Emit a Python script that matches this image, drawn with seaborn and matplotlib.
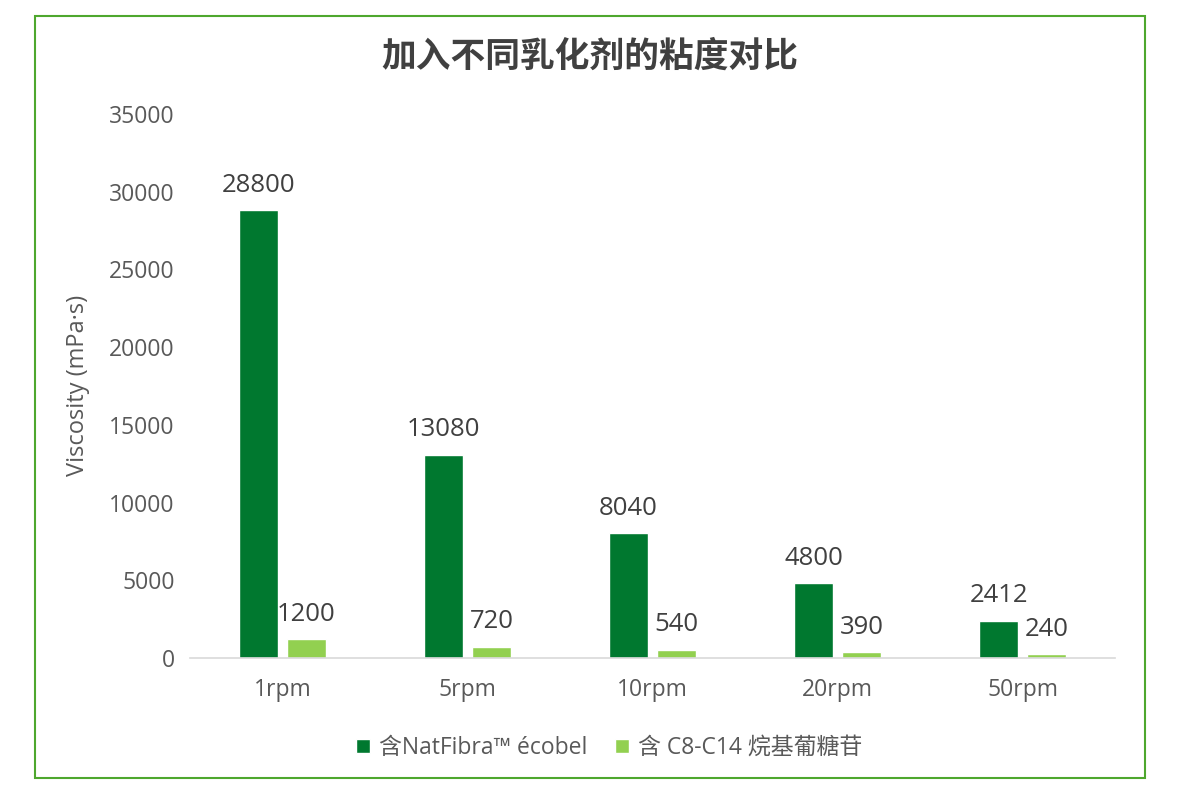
import pandas as pd
import seaborn as sns
import matplotlib.pyplot as plt
from matplotlib.patches import Rectangle

speeds = ["1rpm", "5rpm", "10rpm", "20rpm", "50rpm"]
natfibra = [28800, 13080, 8040, 4800, 2412]
alkyl = [1200, 720, 540, 390, 240]
series_names = ["含NatFibra™ écobel", "含 C8-C14 烷基葡糖苷"]
colors = ["#00782F", "#92D050"]

df = pd.DataFrame({
    "speed": speeds * 2,
    "viscosity": natfibra + alkyl,
    "series": [series_names[0]] * len(speeds) + [series_names[1]] * len(speeds),
})

sns.set_style("white")
plt.rcParams['font.family'] = ['Open Sans', 'Noto Sans CJK SC', 'DejaVu Sans']
text_color = "#595959"

fig = plt.figure(figsize=(11.8, 7.9), dpi=100)
ax = fig.add_axes([0.161, 0.167, 0.784, 0.689])

sns.barplot(data=df, x="speed", y="viscosity", hue="series", palette=colors,
            width=0.52, gap=0.2, ax=ax, saturation=1, legend=True)

for container in ax.containers:
    ax.bar_label(container, labels=[f"{v:.0f}" for v in container.datavalues],
                 padding=9, fontsize=18.5, color="#404040")

ax.set_ylim(0, 35000)
ax.set_yticks(range(0, 35001, 5000))
ax.set_xlabel("")
ax.set_ylabel("Viscosity (mPa·s)", fontsize=17, color=text_color, labelpad=14)
ax.tick_params(axis="both", labelsize=16.5, colors=text_color, length=0)
ax.tick_params(axis="x", pad=14)
ax.tick_params(axis="y", pad=11)
for side in ["top", "right", "left"]:
    ax.spines[side].set_visible(False)
ax.spines["bottom"].set_color("#D9D9D9")
ax.spines["bottom"].set_linewidth(1.2)

ax.legend(loc="center", bbox_to_anchor=(0.453, -0.165), ncol=2, frameon=False,
          fontsize=16.5, labelcolor=text_color, handlelength=0.6, handleheight=0.6,
          handletextpad=0.4, columnspacing=1.2)

fig.text(0.5, 0.927, "加入不同乳化剂的粘度对比", ha="center", va="center",
         fontsize=25, fontweight="bold", color="#404040")

fig.patches.append(Rectangle((35 / 1180, 1 - 778 / 790), 1110 / 1180, 762 / 790,
                             transform=fig.transFigure, fill=False,
                             edgecolor="#4EA72E", linewidth=1.5))

fig.savefig("out.png", dpi=100)
